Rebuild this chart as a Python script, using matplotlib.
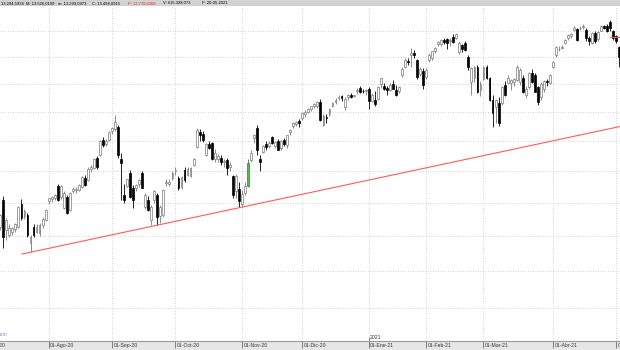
import numpy as np
import pandas as pd
import matplotlib
matplotlib.use("Agg")
import matplotlib.pyplot as plt
from matplotlib.patches import Rectangle
from matplotlib.ticker import NullLocator

# daily candles 10-Jul-2020 .. 04-May-2021
opens = [10635, 11044, 10590, 10520, 10560, 10600, 10640, 10985, 10800, 10815, 10400, 10635, 10560, 10545, 10665, 10740,  # jul
         11030, 11060, 11080, 11262, 11090, 10920, 11090, 10890, 11190, 11200, 11200, 11250, 11390, 11360, 11530, 11550, 11710, 11760, 12010, 11950, 12012,  # ago
         12160, 12200, 12230, 11700, 11121, 11262, 11470, 11230, 11230, 11290, 11470, 10940, 11044, 10740, 11044, 11121, 10800, 10815, 11310, 11300, 11390,  # sep
         11500, 11390, 11250, 11520, 11440, 11420, 11600, 11900, 12150, 12110, 11760, 11940, 11960, 11700, 11700, 11710, 11640, 11680, 11560, 11420, 11180, 11220,  # oct
         10990, 11150, 11270, 11680, 12040, 12216, 11690, 11820, 11950, 11920, 12060, 11920, 11990, 11880, 12010, 11930, 12140, 12250, 12290, 12330,  # nov
         12380, 12460, 12500, 12540, 12590, 12600, 12670, 12270, 12400, 12450, 12600, 12670, 12740, 12770, 12580, 12750, 12790, 12770, 12870, 12920, 12870, 12860,  # dic
         12900, 12680, 12700, 12720, 12990, 12950, 12920, 12880, 13000, 12880, 12860, 13160, 13300, 13420, 13530, 13560, 13435, 13170, 13230,  # ene
         13120, 13440, 13480, 13600, 13750, 13740, 13820, 13830, 13800, 13880, 13860, 13588, 13720, 13759, 13492, 13028, 13100, 13305, 12880,  # feb
         13080, 13300, 13101, 12704, 12580, 12651, 12651, 12974, 13010, 13010, 13030, 13064, 13028, 13101, 12800, 12938, 13193, 13157, 12938, 12757, 12900, 13040, 13010,  # mar
         13300, 13530, 13640, 13670, 13759, 13856, 13900, 14012, 14040, 14050, 14080, 14010, 13850, 13760, 13960, 13830, 14000, 14100, 14090, 14180, 14000,  # abr
         13900, 13680]  # may
highs = [10830, 11105, 10770, 10680, 10640, 10700, 10950, 11060, 10900, 10850, 10520, 10680, 10680, 10690, 10780, 10900,
         11080, 11100, 11140, 11300, 11280, 11180, 11120, 11170, 11240, 11250, 11300, 11420, 11440, 11560, 11600, 11720, 11750, 12020, 12060, 12030, 12160,
         12240, 12440, 12260, 11800, 11300, 11380, 11520, 11280, 11300, 11380, 11500, 11150, 11100, 10960, 11200, 11160, 10960, 11220, 11370, 11380, 11500,
         11560, 11420, 11420, 11560, 11560, 11570, 11720, 12220, 12200, 12160, 11960, 11990, 11980, 11860, 11780, 11770, 11700, 11720, 11640, 11440, 11450, 11330,
         11200, 11320, 11700, 11850, 12110, 12270, 11760, 11930, 11990, 11990, 12080, 12000, 12030, 12020, 12040, 12100, 12200, 12320, 12340, 12370,
         12500, 12520, 12570, 12600, 12650, 12680, 12720, 12450, 12450, 12560, 12670, 12740, 12790, 12790, 12750, 12810, 12830, 12800, 12920, 12950, 12900, 12900,
         12940, 12830, 12860, 12950, 13110, 13010, 12960, 13010, 13060, 12970, 12950, 13300, 13470, 13470, 13660, 13620, 13460, 13300, 13280,
         13280, 13560, 13610, 13680, 13790, 13830, 13850, 13860, 13850, 13930, 13960, 13790, 13740, 13800, 13530, 13300, 13330, 13340, 13050,
         13320, 13340, 13120, 12800, 12720, 12750, 12960, 13050, 13150, 13080, 13110, 13340, 13290, 13150, 12950, 13220, 13260, 13190, 12960, 13030, 13070, 13080, 13180,
         13420, 13700, 13700, 13720, 13840, 13930, 13960, 14090, 14060, 14090, 14130, 14060, 13900, 13980, 13990, 14000, 14110, 14120, 14130, 14210, 14020,
         13920, 13700]
lows = [10590, 10327, 10443, 10480, 10520, 10560, 10620, 10740, 10760, 10480, 10270, 10480, 10540, 10500, 10620, 10720,
        10990, 11020, 11050, 11030, 11060, 10900, 10830, 10870, 11150, 11160, 11180, 11230, 11270, 11340, 11480, 11530, 11540, 11740, 11900, 11920, 11990,
        12120, 12160, 11720, 11044, 11000, 11240, 11080, 10920, 11180, 11250, 11230, 10900, 10870, 10665, 11000, 10665, 10700, 10790, 11260, 11260, 11360,
        11440, 11200, 11220, 11330, 11420, 11400, 11580, 11880, 12000, 11980, 11740, 11870, 11680, 11640, 11650, 11600, 11560, 11430, 11500, 11080, 11080, 10935,
        10940, 11120, 11250, 11650, 11960, 11760, 11500, 11800, 11850, 11880, 11940, 11880, 11840, 11840, 11920, 11880, 12100, 12220, 12250, 12230,
        12360, 12400, 12480, 12510, 12560, 12560, 12330, 12250, 12300, 12420, 12580, 12640, 12700, 12680, 12520, 12700, 12740, 12750, 12810, 12830, 12830, 12800,
        12550, 12660, 12600, 12710, 12920, 12880, 12790, 12860, 12900, 12770, 12830, 13120, 13280, 13350, 13300, 13470, 13080, 13130, 12900,
        13080, 13400, 13440, 13560, 13700, 13700, 13750, 13640, 13700, 13760, 13830, 13540, 13580, 13600, 13249, 12793, 13020, 12830, 12780,
        13060, 13080, 12680, 12233, 12300, 12250, 12620, 12780, 12990, 12880, 12960, 13040, 12980, 12830, 12740, 12900, 13010, 12840, 12620, 12700, 12850, 12960, 12990,
        13280, 13500, 13600, 13640, 13740, 13820, 13860, 13990, 13800, 14020, 14040, 13800, 13720, 13740, 13760, 13800, 13990, 14030, 13980, 13990, 13820,
        13760, 13300]
closes = [10815, 10488, 10739, 10620, 10620, 10680, 10935, 10770, 10880, 10517, 10490, 10517, 10640, 10665, 10760, 10890,
          11070, 11090, 11121, 11044, 11262, 11150, 10845, 11152, 11210, 11215, 11278, 11400, 11280, 11540, 11570, 11700, 11560, 11990, 11930, 12000, 12150,
          12220, 12320, 11762, 11630, 11044, 11374, 11090, 11044, 11278, 11358, 11230, 11121, 10890, 10940, 11180, 10780, 10935, 11200, 11330, 11330, 11470,
          11520, 11230, 11400, 11360, 11540, 11550, 11700, 12180, 12100, 12012, 11940, 11880, 11700, 11800, 11740, 11640, 11670, 11550, 11600, 11120, 11420, 11030,
          11140, 11270, 11630, 11800, 12090, 11845, 11640, 11910, 11900, 11970, 11970, 11980, 11850, 12000, 11950, 12090, 12180, 12300, 12320, 12310,
          12480, 12500, 12550, 12590, 12630, 12660, 12360, 12430, 12390, 12540, 12650, 12710, 12760, 12740, 12720, 12790, 12760, 12790, 12880, 12850, 12860, 12880,
          12690, 12800, 12640, 12940, 13100, 12900, 12880, 12980, 12910, 12800, 12940, 13260, 13440, 13400, 13560, 13530, 13120, 13260, 12980,
          13250, 13530, 13600, 13660, 13770, 13810, 13780, 13760, 13820, 13780, 13940, 13759, 13650, 13626, 13305, 13286, 13300, 12847, 13000,
          13305, 13110, 12704, 12475, 12704, 12302, 12938, 12793, 13101, 13060, 13090, 13305, 13249, 12847, 12900, 13193, 13028, 12847, 12669, 13000, 13040, 13020, 13157,
          13398, 13683, 13650, 13680, 13817, 13920, 13930, 14052, 13817, 14060, 14100, 13860, 13800, 13960, 13800, 13970, 14090, 14060, 14000, 14060, 13860,
          13790, 13500]

first_day = "2020-07-10"
highlight_day = "2020-11-04"
holidays = ["2020-07-03", "2020-09-07", "2020-11-26", "2020-12-25",
            "2021-01-01", "2021-01-18", "2021-02-15", "2021-04-02"]
meses = ["Ene", "Feb", "Mar", "Abr", "May", "Jun", "Jul", "Ago", "Sep", "Oct", "Nov", "Dic"]
grid_levels = [9500, 10000, 10500, 11000, 11500, 12000, 12500, 13000, 13500, 14000]

# trendline (soporte) y precio marcado
trend_x = [7.2, 205.5]
trend_y = [10240, 12245]
marker_price = 13880

header = [("A: 13.294,5934", "k"), ("M: 13.526,0109", "k"), ("m: 13.293,0973", "k"),
          ("C: 13.494,0915", "k"), ("P: 13.778,6368", "#ee2222"),
          ("V: 615.328.073", "k"), ("F: 20-05-2021", "k")]
header_x = [-4, 26, 58, 92, 128, 163, 202]

# dias de mercado desde el 1 de julio
dias = pd.bdate_range("2020-07-01", "2021-05-31")
dias = dias[~dias.isin(pd.to_datetime(holidays))]
offset = int(np.where(dias == pd.Timestamp(first_day))[0][0])
pos_all = np.arange(len(dias)) - offset

n = len(closes)
x = np.arange(n)

W, H = 620, 350
fig = plt.figure(figsize=(W / 100, H / 100), dpi=100)
fig.patch.set_facecolor("white")
ax = fig.add_axes([0, 9 / H, 1, 334 / H])
ax.set_facecolor("white")

ax.set_yscale("log")
ax.yaxis.set_minor_locator(NullLocator())
ax.set_yticks(grid_levels)

# inicio de cada mes
mes_pos, mes_lab = [], []
meses_idx = pd.Series(pos_all, index=dias)
for per, grp in meses_idx.groupby(dias.to_period("M")):
    mes_pos.append(grp.iloc[0])
    mes_lab.append("01-%s-%s" % (meses[per.month - 1], str(per.year)[2:]))
ax.set_xticks(mes_pos)
ax.tick_params(left=False, bottom=False, labelleft=False, labelbottom=False)
ax.set_axisbelow(True)
ax.grid(True, linestyle=(0, (1, 2)), color="#c4c4c4", linewidth=0.6)
for s in ["left", "right", "top"]:
    ax.spines[s].set_visible(False)
ax.spines["bottom"].set_color("#9a9a9a")
ax.spines["bottom"].set_linewidth(0.8)

# velas
fecha_verde = int(meses_idx[pd.Timestamp(highlight_day)])
for i in range(n):
    o, h, l, c = opens[i], highs[i], lows[i], closes[i]
    if i == fecha_verde:
        fill, edge = "#22dd22", "#606060"
    elif c >= o:
        fill, edge = "white", "#7a7a7a"
    else:
        fill, edge = "black", "black"
    ax.vlines(x[i], l, h, color=edge, linewidth=0.6, zorder=2)
    ax.bar(x[i], abs(c - o), bottom=min(o, c), width=0.62, color=fill,
           edgecolor=edge, linewidth=0.5, zorder=3)

ax.plot(trend_x, trend_y, color="#ff5a5a", linewidth=0.8, zorder=4)
ax.plot([202, 206], [marker_price, marker_price], color="#ff5a5a", linewidth=0.8, zorder=4)

# limites al final (set_xticks ensancha la vista)
ax.set_xlim(-0.1, 205.2)
ax.set_ylim(9066, 14471)

# eje inferior
tr = ax.get_xaxis_transform()
for p, lab in zip(mes_pos, mes_lab):
    top = 0.012 if lab.endswith("Ene-21") else 0.0
    ax.vlines(p, -0.022, top, transform=tr, color="#6e6e6e", linewidth=0.6, clip_on=False)
    ax.text(p + 0.5, -0.005, lab, transform=tr, ha="left", va="top", fontsize=3.7,
            family="Liberation Sans", color="#333333", clip_on=False)
    if lab.endswith("Ene-21"):
        ax.text(p + 0.5, 0.004, "2021", transform=tr, ha="left", va="bottom", fontsize=3.7,
                family="Liberation Sans", color="#333333")
ax.set_xlim(-0.1, 205.2)

fig.patches.append(Rectangle((0, 0), 1, 9 / H, transform=fig.transFigure,
                             facecolor="#e6e6e6", edgecolor="none", zorder=-5))
fig.patches.append(Rectangle((0, 1 - 6 / H), 1, 6 / H, transform=fig.transFigure,
                             facecolor="#d2d2d2", edgecolor="none", zorder=-5))

for (txt, col), hx in zip(header, header_x):
    fig.text(hx / W, 1 - 3.2 / H, txt, color=col, fontsize=3.0, family="Liberation Sans",
             ha="left", va="center")

fig.text(8 / W, 1 - 334 / H, "com", color="#8a8ad0", fontsize=3.7,
         family="Liberation Sans", ha="right", va="center")

fig.savefig("out.png", dpi=100)
